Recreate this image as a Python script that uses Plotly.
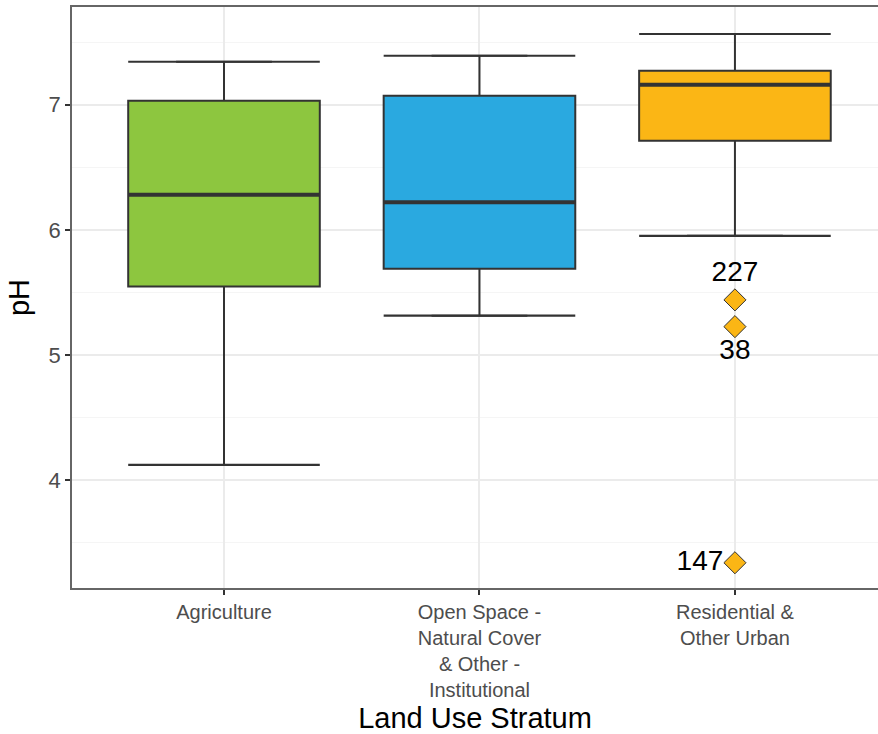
import plotly.graph_objects as go

categories = ["Agriculture", "Open Space -<br>Natural Cover<br>& Other -<br>Institutional", "Residential &<br>Other Urban"]
positions = [1, 2, 3]
q1 = [5.546, 5.688, 6.712]
median = [6.28, 6.22, 7.16]
q3 = [7.032, 7.072, 7.272]
lower_whisker = [4.12, 5.314, 5.952]
upper_whisker = [7.344, 7.392, 7.566]
fill_colors = ["#8DC63F", "#2AA9E0", "#FBB615"]

outlier_pos = [3, 3, 3]
outlier_ph = [5.44, 5.226, 3.338]
outlier_ids = ["227", "38", "147"]
outlier_textpos = ["top center", "bottom center", "middle left"]

box_w = 0.75
dark = "#333333"

fig = go.Figure()

for p, a, m, b, lo, hi, c in zip(positions, q1, median, q3, lower_whisker, upper_whisker, fill_colors):
    fig.add_trace(go.Box(
        x=[p], q1=[a], median=[m], q3=[b], lowerfence=[lo], upperfence=[hi],
        fillcolor=c, line=dict(color=dark, width=2), width=box_w,
        boxpoints=False, showlegend=False, hoverinfo="skip",
    ))
    # whisker caps
    for v in (lo, hi):
        fig.add_trace(go.Scatter(
            x=[p - box_w / 2, p + box_w / 2], y=[v, v], mode="lines",
            line=dict(color=dark, width=2.2), showlegend=False, hoverinfo="skip",
        ))
    # thick median
    fig.add_trace(go.Scatter(
        x=[p - box_w / 2, p + box_w / 2], y=[m, m], mode="lines",
        line=dict(color=dark, width=4), showlegend=False, hoverinfo="skip",
    ))

fig.add_trace(go.Scatter(
    x=outlier_pos, y=outlier_ph, mode="markers+text",
    marker=dict(symbol="diamond", size=17, color="#FBB615", line=dict(color=dark, width=1)),
    text=outlier_ids, textposition=outlier_textpos,
    textfont=dict(family="Liberation Sans, Arial, sans-serif", size=28, color="black"),
    showlegend=False, hoverinfo="skip",
))

fig.update_layout(
    width=878, height=734,
    margin=dict(l=72, r=0, t=7, b=146),
    plot_bgcolor="white", paper_bgcolor="white",
    font=dict(family="Liberation Sans, Arial, sans-serif"),
)
fig.update_xaxes(
    range=[0.405, 3.56], tickvals=positions, ticktext=categories,
    tickfont=dict(size=20, color="#4D4D4D"),
    ticks="outside", ticklen=5, tickcolor=dark, tickwidth=1.5,
    showgrid=True, gridcolor="#EBEBEB", gridwidth=1.5,
    showline=True, linecolor="#666666", linewidth=1.5, mirror=True,
    zeroline=False,
    title=dict(text="Land Use Stratum", font=dict(size=29, color="black"), standoff=8),
)
fig.update_yaxes(
    range=[3.136, 7.782], tickvals=[4, 5, 6, 7],
    tickfont=dict(size=22, color="#4D4D4D"),
    ticks="outside", ticklen=5, tickcolor=dark, tickwidth=1.5,
    showgrid=True, gridcolor="#EBEBEB", gridwidth=1.5,
    minor=dict(tickvals=[3.5, 4.5, 5.5, 6.5, 7.5], showgrid=True, gridcolor="#F5F5F5", gridwidth=1, ticks=""),
    showline=True, linecolor="#666666", linewidth=1.5, mirror=False,
    zeroline=False,
    title=dict(text="pH", font=dict(size=29, color="black"), standoff=10),
)

fig.write_html("out.html")
